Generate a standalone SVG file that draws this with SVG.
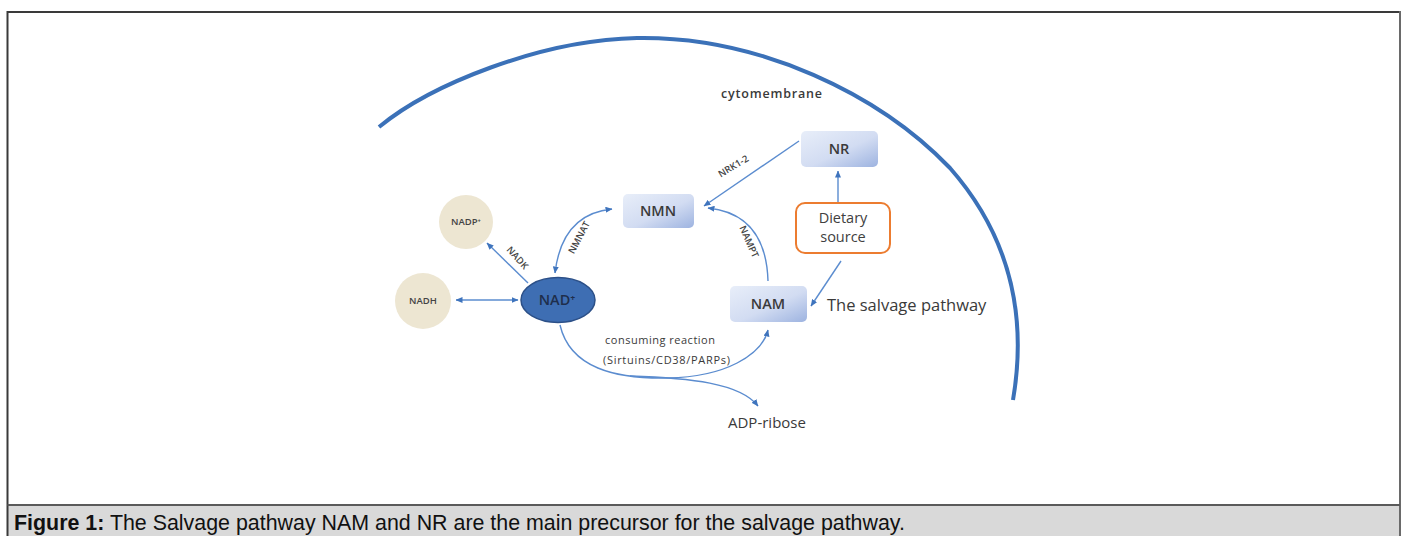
<svg xmlns="http://www.w3.org/2000/svg" width="1405" height="536" viewBox="0 0 1405 536">
<defs>
<linearGradient id="boxg" x1="0" y1="0" x2="1" y2="1">
<stop offset="0" stop-color="#e8eef9"/>
<stop offset="0.55" stop-color="#d2dcf2"/>
<stop offset="1" stop-color="#9db3e0"/>
</linearGradient>
<marker id="ah" markerUnits="userSpaceOnUse" markerWidth="7" markerHeight="6" refX="6.5" refY="3" orient="auto-start-reverse">
<path d="M0,0 L7,3 L0,6 z" fill="#3f74bd"/>
</marker>
</defs>
<style>
.frame{stroke:#3a3a3a;stroke-width:2;fill:none}
.conn{stroke:#5b8ccf;stroke-width:1.4;fill:none}
.box{fill:url(#boxg)}
.boxt{font-family:"Open Sans","Liberation Sans",sans-serif;font-size:14.5px;font-weight:600;fill:#3a3a3a;text-anchor:middle}
.circ{fill:#ede6d2}
.ct{font-family:"Open Sans","Liberation Sans",sans-serif;font-size:9.5px;font-weight:600;fill:#444;text-anchor:middle}
.lab{font-family:"Open Sans","Liberation Sans",sans-serif;font-size:9.5px;font-weight:600;fill:#444;text-anchor:middle}
.txt{font-family:"Open Sans","Liberation Sans",sans-serif;fill:#3a3a3a}
</style>
<rect x="0" y="0" width="1405" height="536" fill="#ffffff"/>
<rect x="8" y="506" width="1391" height="31" fill="#d9d9d9"/>
<line x1="7.5" y1="12" x2="1400" y2="12" class="frame"/>
<line x1="7.5" y1="11" x2="7.5" y2="536" class="frame"/>
<line x1="1400" y1="11" x2="1400" y2="536" class="frame" style="stroke:#6a6a6a"/>
<line x1="7.5" y1="505" x2="1400" y2="505" class="frame" style="stroke:#5a5a5a"/>
<text x="14" y="530" font-family="Liberation Sans, Arial, sans-serif" font-size="21.4" fill="#111"><tspan font-weight="bold">Figure 1:</tspan> The Salvage pathway NAM and NR are the main precursor for the salvage pathway.</text>

<g id="membrane">
<path d="M379,127 C430,85 540,40 637,38 C760,36 880,95 950,168 C1000,225 1030,300 1013,400" fill="none" stroke="#3b71b8" stroke-width="4"/>
<text x="721" y="98" class="txt" font-size="12.5" font-weight="600" textLength="101">cytomembrane</text>
</g>

<g id="connectors">
<line x1="799" y1="141" x2="704" y2="206" class="conn" marker-end="url(#ah)"/>
<path d="M612,209 Q562,214 555,273" class="conn" marker-start="url(#ah)" marker-end="url(#ah)"/>
<path d="M768,281 Q766,214 708,208" class="conn" marker-end="url(#ah)"/>
<line x1="528" y1="283" x2="487" y2="243" class="conn" marker-end="url(#ah)"/>
<line x1="456" y1="300" x2="518" y2="300" class="conn" marker-start="url(#ah)" marker-end="url(#ah)"/>
<line x1="838" y1="202" x2="838" y2="171" class="conn" marker-end="url(#ah)"/>
<line x1="841" y1="261" x2="811" y2="306" class="conn" marker-end="url(#ah)"/>
<path d="M560,325 C570,368 615,379 668,378 C725,377 762,355 768,330" class="conn" marker-end="url(#ah)"/>
<path d="M630,376 C690,378 740,383 758,406" class="conn" marker-end="url(#ah)"/>
<text class="lab" transform="translate(735,169) rotate(-31)">NRK1-2</text>
<text class="lab" transform="translate(582,239) rotate(-62)">NMNAT</text>
<text class="lab" transform="translate(746,243) rotate(66)">NAMPT</text>
<text class="lab" transform="translate(515,260) rotate(48)">NADK</text>
<text x="605" y="344" class="txt" font-size="11" textLength="110">consuming reaction</text>
<text x="603" y="364" class="txt" font-size="11" textLength="127">(Sirtuins/CD38/PARPs)</text>
</g>

<g id="nr"><rect x="801" y="131" width="77" height="36" rx="5" class="box"/><text x="839" y="154" class="boxt">NR</text></g>
<g id="nmn"><rect x="623" y="194" width="71" height="34" rx="5" class="box"/><text x="658" y="216" class="boxt">NMN</text></g>
<g id="nam"><rect x="730" y="286" width="77" height="36" rx="5" class="box"/><text x="768" y="309" class="boxt">NAM</text></g>
<g id="dietary"><rect x="796" y="203" width="94" height="50" rx="9" fill="#fff" stroke="#ec7c30" stroke-width="2"/><text x="843" y="223" class="boxt" style="font-weight:400;fill:#404040">Dietary</text><text x="843" y="242" class="boxt" style="font-weight:400;fill:#404040">source</text></g>
<g id="nadp"><circle cx="466" cy="222" r="27" class="circ"/><text x="466" y="225" class="ct">NADP⁺</text></g>
<g id="nadh"><circle cx="423" cy="301" r="28" class="circ"/><text x="423" y="304" class="ct">NADH</text></g>
<g id="nad"><ellipse cx="558" cy="300" rx="37" ry="22.5" fill="#3e6eb3" stroke="#2c5088" stroke-width="1.5"/><text x="557" y="305" class="boxt" style="fill:#1e2e4c;font-weight:600">NAD⁺</text></g>
<g id="salvage-label"><text x="827" y="311" class="txt" font-size="16.5" fill="#333">The salvage pathway</text></g>
<g id="adp"><text x="728" y="428" class="txt" font-size="15">ADP-ribose</text></g>
</svg>
